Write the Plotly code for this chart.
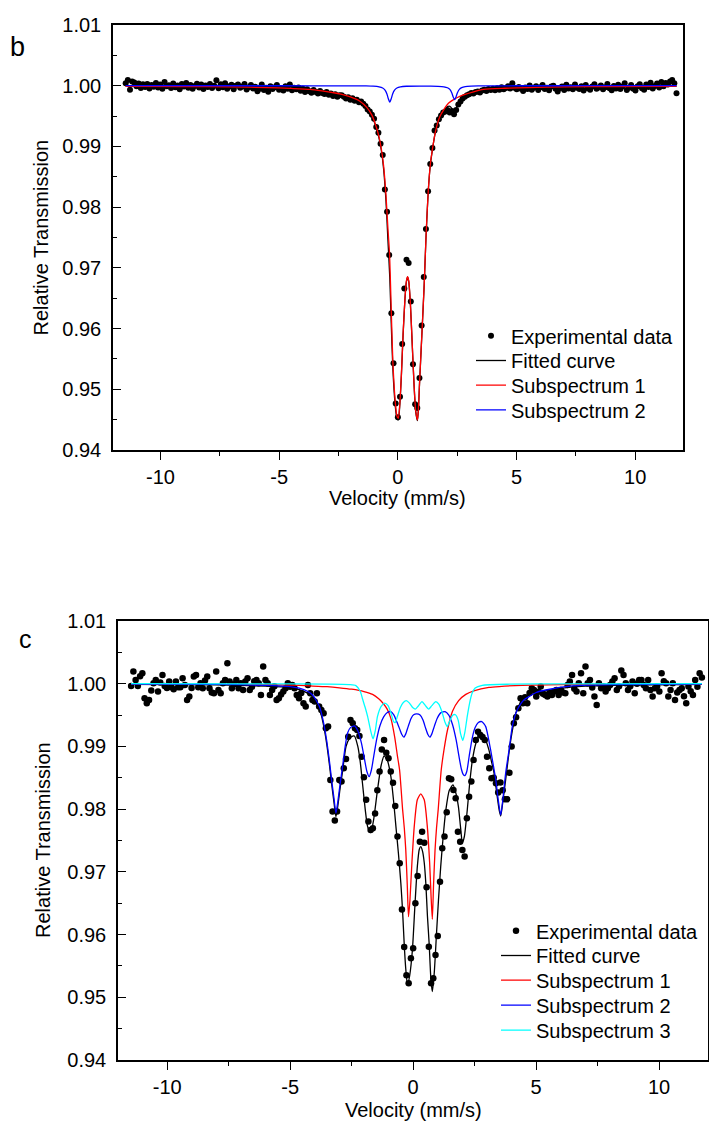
import plotly.graph_objects as go

# ---------------- shared velocity channels (mm/s) ----------------
VELOCITY = [
    -11.466, -11.375, -11.284, -11.193, -11.102, -11.011, -10.920, -10.829, -10.738, -10.647,
    -10.556, -10.465, -10.374, -10.283, -10.192, -10.101, -10.010, -9.919, -9.828, -9.737,
    -9.646, -9.555, -9.464, -9.373, -9.282, -9.191, -9.100, -9.009, -8.918, -8.827,
    -8.736, -8.645, -8.554, -8.463, -8.372, -8.281, -8.190, -8.099, -8.008, -7.917,
    -7.826, -7.735, -7.644, -7.553, -7.462, -7.371, -7.280, -7.189, -7.098, -7.007,
    -6.916, -6.825, -6.734, -6.643, -6.552, -6.461, -6.370, -6.279, -6.188, -6.097,
    -6.006, -5.915, -5.824, -5.733, -5.642, -5.551, -5.460, -5.369, -5.278, -5.187,
    -5.096, -5.005, -4.914, -4.823, -4.732, -4.641, -4.550, -4.459, -4.368, -4.277,
    -4.186, -4.095, -4.004, -3.913, -3.822, -3.731, -3.640, -3.549, -3.458, -3.367,
    -3.276, -3.185, -3.094, -3.003, -2.912, -2.821, -2.730, -2.639, -2.548, -2.457,
    -2.366, -2.275, -2.184, -2.093, -2.002, -1.911, -1.820, -1.729, -1.638, -1.547,
    -1.456, -1.365, -1.274, -1.183, -1.092, -1.001, -0.910, -0.819, -0.728, -0.637,
    -0.546, -0.455, -0.364, -0.273, -0.182, -0.091, 0.000, 0.091, 0.182, 0.273,
    0.364, 0.455, 0.546, 0.637, 0.728, 0.819, 0.910, 1.001, 1.092, 1.183,
    1.274, 1.365, 1.456, 1.547, 1.638, 1.729, 1.820, 1.911, 2.002, 2.093,
    2.184, 2.275, 2.366, 2.457, 2.548, 2.639, 2.730, 2.821, 2.912, 3.003,
    3.094, 3.185, 3.276, 3.367, 3.458, 3.549, 3.640, 3.731, 3.822, 3.913,
    4.004, 4.095, 4.186, 4.277, 4.368, 4.459, 4.550, 4.641, 4.732, 4.823,
    4.914, 5.005, 5.096, 5.187, 5.278, 5.369, 5.460, 5.551, 5.642, 5.733,
    5.824, 5.915, 6.006, 6.097, 6.188, 6.279, 6.370, 6.461, 6.552, 6.643,
    6.734, 6.825, 6.916, 7.007, 7.098, 7.189, 7.280, 7.371, 7.462, 7.553,
    7.644, 7.735, 7.826, 7.917, 8.008, 8.099, 8.190, 8.281, 8.372, 8.463,
    8.554, 8.645, 8.736, 8.827, 8.918, 9.009, 9.100, 9.191, 9.282, 9.373,
    9.464, 9.555, 9.646, 9.737, 9.828, 9.919, 10.010, 10.101, 10.192, 10.283,
    10.374, 10.465, 10.556, 10.647, 10.738, 10.829, 10.920, 11.011, 11.102, 11.193,
    11.284, 11.375, 11.466, 11.557, 11.648, 11.739,
]

# ---------------- panel b ----------------
B_DATA = [
    1.00042, 1.00095, 0.99935, 1.00070, 1.00052, 0.99990, 1.00038, 0.99962, 1.00025, 0.99978,
    1.00030, 0.99955, 1.00012, 0.99984, 1.00046, 0.99970, 1.00020, 0.99948, 1.00062, 0.99990,
    1.00008, 0.99962, 1.00036, 0.99975, 1.00002, 0.99940, 1.00028, 0.99985, 1.00044, 0.99968,
    1.00010, 0.99952, 0.99996, 1.00034, 0.99970, 1.00018, 0.99946, 1.00005, 0.99980, 1.00030,
    0.99964, 1.00000, 1.00088, 0.99958, 1.00024, 0.99975, 1.00040, 0.99950, 0.99990, 1.00014,
    0.99942, 0.99998, 1.00022, 0.99966, 0.99985, 1.00030, 0.99938, 0.99975, 1.00010, 0.99954,
    0.99982, 0.99910, 0.99948, 1.00018, 0.99930, 0.99965, 0.99902, 0.99990, 0.99945, 0.99975,
    1.00012, 0.99935, 0.99958, 0.99920, 0.99990, 0.99948, 1.00020, 0.99925, 0.99965, 0.99940,
    0.99972, 0.99918, 0.99950, 0.99895, 0.99940, 0.99910, 0.99885, 0.99930, 0.99895, 0.99870,
    0.99915, 0.99880, 0.99862, 0.99898, 0.99850, 0.99872, 0.99830, 0.99858, 0.99820, 0.99845,
    0.99845, 0.99820, 0.99790, 0.99808, 0.99770, 0.99792, 0.99752, 0.99768, 0.99728, 0.99740,
    0.99705, 0.99665, 0.99610, 0.99575, 0.99520, 0.99455,
    0.99320, 0.99226, 0.99046, 0.98857, 0.98289, 0.97924, 0.97210, 0.96252, 0.95430, 0.94766,
    0.94539, 0.94878, 0.95745, 0.96660, 0.97135, 0.97080, 0.96447, 0.95414, 0.94754, 0.94690,
    0.95187, 0.96050, 0.96850, 0.97640, 0.98262, 0.98712, 0.98976, 0.99264, 0.99345, 0.99446,
    0.99510, 0.99560, 0.99575, 0.99600, 0.99560, 0.99585, 0.99530, 0.99600, 0.99690, 0.99740,
    0.99790, 0.99820, 0.99845, 0.99860, 0.99880, 0.99870, 0.99895, 0.99905, 0.99890, 0.99920,
    0.99935, 0.99915, 0.99945, 0.99930,
    0.99950, 0.99925, 0.99960, 0.99935, 0.99975, 0.99940, 0.99962, 0.99990, 0.99955, 1.00040,
    0.99965, 0.99940, 0.99980, 0.99950, 0.99915, 0.99970, 0.99945, 1.00005, 0.99935, 0.99965,
    0.99990, 0.99930, 0.99975, 1.00010, 0.99945, 0.99968, 0.99925, 0.99985, 1.00000, 0.99950,
    0.99905, 0.99960, 0.99985, 0.99930, 1.00015, 0.99955, 0.99975, 0.99940, 1.00020, 0.99965,
    0.99945, 0.99990, 0.99920, 1.00010, 0.99960, 0.99935, 0.99985, 1.00025, 0.99950, 0.99970,
    1.00005, 0.99940, 0.99975, 1.00030, 0.99960, 0.99925, 0.99995, 0.99955, 1.00015, 0.99945,
    0.99985, 1.00040, 0.99930, 0.99965, 1.00010, 0.99950, 0.99920, 0.99990, 1.00025, 0.99960,
    0.99935, 1.00020, 0.99980, 1.00050, 0.99955, 0.99995, 1.00035, 0.99970, 1.00060, 0.99990,
    1.00045, 1.00020, 1.00070, 1.00095, 1.00040, 0.99875,
]

B_FIT_X = [-11.466, -9, -7, -5.5, -4.5, -3.7, -3.2, -2.7, -2.4, -2.0, -1.6, -1.3, -1.1, -0.95,
           -0.8, -0.7, -0.6, -0.5, -0.42, -0.34, -0.28, -0.21, -0.11, -0.04, 0.02, 0.08, 0.15,
           0.22, 0.30, 0.36, 0.41, 0.46, 0.53, 0.60, 0.68, 0.75, 0.826, 0.87, 0.91, 1.01, 1.11,
           1.19, 1.28, 1.37, 1.475, 1.57, 1.78, 1.94, 2.09, 2.19, 2.27, 2.33, 2.39, 2.45, 2.51,
           2.59, 2.69, 2.84, 3.19, 3.61, 4.5, 5.5, 7, 9, 11.739]
B_FIT_Y = [0.99990, 0.99986, 0.99980, 0.99969, 0.99954, 0.99939, 0.99914, 0.99883, 0.99858,
           0.99813, 0.99742, 0.99636, 0.99512, 0.99358, 0.99150, 0.98945, 0.98630, 0.98100,
           0.97470, 0.96840, 0.96110, 0.95340, 0.94730, 0.94520, 0.94495, 0.94730, 0.95235,
           0.95888, 0.96490, 0.96771, 0.96846, 0.96771, 0.96391, 0.95791, 0.95091, 0.94641,
           0.94485, 0.94691, 0.95061, 0.95883, 0.96723, 0.97543, 0.98253, 0.98702, 0.98990,
           0.99210, 0.99488, 0.99589, 0.99656, 0.99661, 0.99627, 0.99573, 0.99542, 0.99602,
           0.99683, 0.99753, 0.99806, 0.99843, 0.99893, 0.99939, 0.99957, 0.99969, 0.99980,
           0.99987, 0.99990]

B_SUB1_X = [-11.466, -9, -7, -5.5, -4.5, -3.7, -3.2, -2.7, -2.4, -2.0, -1.6, -1.3, -1.1, -0.95,
            -0.8, -0.7, -0.6, -0.5, -0.42, -0.35, -0.28, -0.21, -0.11, -0.04, 0.02, 0.08, 0.15,
            0.22, 0.30, 0.36, 0.41, 0.46, 0.53, 0.60, 0.68, 0.75, 0.826, 0.87, 0.91, 1.01, 1.11,
            1.19, 1.28, 1.37, 1.475, 1.57, 1.78, 2.13, 2.63, 3.19, 3.61, 4.5, 5.5, 7, 9, 11.739]
B_SUB1_Y = [0.99990, 0.99986, 0.99980, 0.99970, 0.99955, 0.99940, 0.99915, 0.99884, 0.99860,
            0.99815, 0.99745, 0.99640, 0.99520, 0.99370, 0.99170, 0.98970, 0.98680, 0.98200,
            0.97660, 0.97240, 0.96330, 0.95450, 0.94800, 0.94560, 0.94520, 0.94750, 0.95250,
            0.95900, 0.96500, 0.96780, 0.96855, 0.96780, 0.96400, 0.95800, 0.95100, 0.94650,
            0.94494, 0.94700, 0.95070, 0.95890, 0.96730, 0.97550, 0.98260, 0.98710, 0.99000,
            0.99220, 0.99500, 0.99710, 0.99830, 0.99900, 0.99940, 0.99958, 0.99970, 0.99980,
            0.99987, 0.99990]

B_SUB2_X = [-11.466, -5, -2, -1.34, -1.04, -0.79, -0.64, -0.54, -0.46, -0.40, -0.34, -0.28, -0.22,
            -0.14, -0.04, 0.11, 0.36, 1.0, 1.39, 1.69, 1.94, 2.09, 2.19, 2.27, 2.33, 2.39, 2.45,
            2.51, 2.59, 2.69, 2.84, 3.09, 3.39, 5, 8, 11.739]
B_SUB2_Y = [1.00000, 0.99999, 0.99998, 0.99996, 0.99992, 0.99982, 0.99963, 0.99928, 0.99865,
            0.99784, 0.99730, 0.99784, 0.99865, 0.99928, 0.99963, 0.99982, 0.99991, 0.99993,
            0.99993, 0.99990, 0.99982, 0.99966, 0.99939, 0.99885, 0.99816, 0.99770, 0.99816,
            0.99885, 0.99939, 0.99968, 0.99985, 0.99993, 0.99997, 0.99999, 1.00000, 1.00000]

# ---------------- panel c ----------------
C_DATA = [
    0.99965, 1.00193, 1.00061, 0.99965, 1.00120, 1.00167, 0.99769, 0.99689, 0.99742, 0.99890,
    1.00008, 1.00061, 0.99874, 1.00020, 1.00140, 0.99965, 0.99930, 1.00034, 0.99944, 0.99912,
    1.00034, 0.99944, 0.99944, 1.00088, 0.99980, 0.99742, 0.99795, 0.99930, 1.00114, 1.00140,
    0.99944, 1.00008, 0.99928, 1.00050, 1.00114, 0.99928, 0.99860, 0.99848, 1.00193, 0.99900,
    0.99848, 1.00008, 1.00061, 1.00327, 1.00034, 0.99928, 0.99990, 1.00061, 0.99928, 1.00008,
    0.99901, 1.00034, 1.00088, 0.99901, 0.99950, 1.00040, 1.00061, 1.00008, 0.99821,
    1.00274, 1.00061, 1.00008, 0.99821, 0.99901, 0.99960, 0.99742, 0.99769, 0.99830, 0.99874,
    0.99928, 1.00008, 0.99950, 0.99981, 0.99928, 0.99821, 0.99769, 0.99850, 0.99689, 0.99635,
    0.99981, 0.99848, 0.99742, 0.99715, 0.99848, 0.99635, 0.99582, 0.99530, 0.99290, 0.99316,
    0.98466, 0.97961, 0.97817, 0.97961, 0.98466, 0.98439, 0.98652, 0.98800, 0.99156, 0.99423,
    0.99370, 0.99290, 0.99263, 0.99167, 0.98837, 0.98509, 0.98150, 0.97801, 0.97668, 0.97695,
    0.97930, 0.98300, 0.98600, 0.98950, 0.99104, 0.98900, 0.98812, 0.98599, 0.98420, 0.98050,
    0.97562, 0.97137, 0.96400, 0.95800, 0.95350, 0.95223, 0.95622, 0.95781, 0.96500, 0.96935,
    0.97482, 0.97641, 0.97466, 0.96754, 0.95807, 0.95223, 0.95303, 0.95675, 0.95978, 0.96844,
    0.97376, 0.97562, 0.97950, 0.98493, 0.98477, 0.98306, 0.98173, 0.97641, 0.97482, 0.97349,
    0.97243, 0.97855, 0.98199, 0.98439, 0.98785, 0.99104, 0.99236, 0.99183, 0.99150, 0.99104,
    0.98837, 0.98652, 0.98493, 0.98500, 0.98413, 0.98264, 0.98423, 0.98300, 0.98158, 0.98158,
    0.98582, 0.98997, 0.99370, 0.99466, 0.99609, 0.99769, 0.99689, 0.99785, 0.99689, 0.99850,
    0.99928, 0.99901,
    0.99795, 0.99870, 0.99954, 0.99840, 0.99821, 0.99795, 0.99860, 0.99821, 0.99874, 0.99900,
    0.99821, 0.99901, 0.99860, 0.99848, 0.99981, 1.00034, 1.00140, 0.99920, 0.99874, 1.00008,
    1.00167, 0.99848, 1.00274, 1.00008, 1.00061, 0.99940, 0.99795, 0.99662, 1.00008, 0.99928,
    0.99960, 0.99874, 0.99928, 0.99980, 1.00034, 1.00088, 0.99901, 0.99960, 1.00209, 1.00140,
    1.00008, 0.99901, 0.99960, 1.00034, 0.99848, 1.00000, 1.00061, 1.00061, 0.99980, 0.99928,
    1.00061, 0.99900, 0.99795, 0.99928, 0.99960, 0.99874, 1.00167, 1.00040, 1.00008, 0.99795,
    0.99900, 1.00008, 0.99742, 0.99860, 0.99901, 0.99928, 0.99800, 0.99689, 0.99954, 0.99880,
    0.99821, 1.00061, 0.99950, 1.00167, 1.00100,
]

C_FIT_X = [-11.466, -8, -6, -5, -4.63, -4.3, -4.09, -3.95, -3.81, -3.71, -3.61, -3.51, -3.41,
           -3.31, -3.21, -3.14, -3.07, -2.97, -2.87, -2.73, -2.60, -2.46, -2.39, -2.25, -2.15,
           -2.06, -1.95, -1.85, -1.72, -1.60, -1.45, -1.30, -1.18, -1.05, -0.905, -0.80, -0.70,
           -0.60, -0.50, -0.43, -0.365, -0.30, -0.23, -0.14, -0.03, 0.07, 0.17, 0.25, 0.31, 0.38,
           0.45, 0.515, 0.58, 0.65, 0.72, 0.78, 0.86, 0.95, 1.03, 1.12, 1.22, 1.33, 1.47, 1.62,
           1.74, 1.84, 1.93, 2.00, 2.08, 2.20, 2.30, 2.41, 2.55, 2.68, 2.81, 2.95, 3.08, 3.19,
           3.29, 3.40, 3.50, 3.56, 3.64, 3.76, 3.87, 3.97, 4.08, 4.17, 4.35, 4.57, 5.0, 5.39,
           6.47, 8, 11.739]
C_FIT_Y = [0.99990, 0.99980, 0.99960, 0.99935, 0.99905, 0.99850, 0.99790, 0.99705, 0.99600,
           0.99460, 0.99270, 0.99030, 0.98730, 0.98390, 0.98080, 0.97880, 0.98030, 0.98330,
           0.98600, 0.98997, 0.99120, 0.99165, 0.99167, 0.99000, 0.98750, 0.98413, 0.98000,
           0.97720, 0.97625, 0.97850, 0.98306, 0.98700, 0.98848, 0.98780, 0.98518, 0.98150,
           0.97721, 0.97300, 0.96818, 0.96380, 0.95861, 0.95450, 0.95196, 0.95350, 0.95754,
           0.96450, 0.97083, 0.97360, 0.97402, 0.97330, 0.97150, 0.96818, 0.96300, 0.95861,
           0.95300, 0.95089, 0.95400, 0.96021, 0.96550, 0.97083, 0.97560, 0.97987, 0.98300,
           0.98386, 0.98250, 0.98040, 0.97700, 0.97466, 0.97560, 0.97987, 0.98420, 0.98785,
           0.99050, 0.99180, 0.99190, 0.99100, 0.98944, 0.98750, 0.98573, 0.98250, 0.97980,
           0.97891, 0.98100, 0.98466, 0.98820, 0.99104, 0.99350, 0.99530, 0.99690, 0.99794,
           0.99845, 0.99885, 0.99950, 0.99975, 0.99990]

C_SUB1_X = [-11.466, -8, -6, -5, -4.2, -3.5, -3.0, -2.5, -2.0, -1.65, -1.4, -1.25, -1.05, -0.9,
            -0.75, -0.64, -0.55, -0.43, -0.36, -0.30, -0.24, -0.19, -0.13, -0.05, 0.05, 0.17,
            0.31, 0.45, 0.57, 0.67, 0.73, 0.78, 0.83, 0.89, 0.95, 1.02, 1.14, 1.26, 1.39, 1.6,
            1.85, 2.14, 2.5, 3.08, 3.5, 4.44, 6, 8, 11.739]
C_SUB1_Y = [0.99995, 0.99990, 0.99985, 0.99978, 0.99965, 0.99952, 0.99935, 0.99912, 0.99875,
            0.99830, 0.99760, 0.99700, 0.99590, 0.99440, 0.99150, 0.98850, 0.98620, 0.98000,
            0.97700, 0.97350, 0.96800, 0.96286, 0.96550, 0.97150, 0.97750, 0.98150, 0.98243,
            0.98150, 0.97750, 0.97150, 0.96600, 0.96244, 0.96800, 0.97350, 0.97700, 0.98000,
            0.98620, 0.98960, 0.99250, 0.99560, 0.99730, 0.99830, 0.99890, 0.99940, 0.99955,
            0.99975, 0.99985, 0.99990, 0.99995]

C_SUB2_X = [-11.466, -8, -6, -5, -4.63, -4.3, -4.09, -3.95, -3.81, -3.71,
            -3.61, -3.51, -3.41, -3.31, -3.21, -3.14, -3.07, -2.97, -2.87, -2.77,
            -2.67, -2.55, -2.39, -2.25, -2.1, -1.98, -1.88, -1.79, -1.70, -1.60,
            -1.48, -1.35, -1.2, -1.05, -0.905, -0.78, -0.65, -0.55, -0.46, -0.38,
            -0.30, -0.20, -0.08, 0.02, 0.15, 0.28, 0.40, 0.50, 0.60, 0.68,
            0.76, 0.86, 0.98, 1.12, 1.30, 1.45, 1.60, 1.75, 1.86, 1.96,
            2.04, 2.10, 2.18, 2.28, 2.40, 2.52, 2.65, 2.79, 2.95, 3.05,
            3.15, 3.26, 3.36, 3.46, 3.56, 3.66, 3.76, 3.90, 4.03, 4.15,
            4.30, 4.50, 4.71, 5.0, 5.39, 6.47, 8, 11.739]
C_SUB2_Y = [0.99995, 0.99990, 0.99975, 0.99955, 0.99928, 0.99880, 0.99821, 0.99740, 0.99635, 0.99500,
            0.99316, 0.99080, 0.98785, 0.98450, 0.98147, 0.97935, 0.98100, 0.98400, 0.98678, 0.98980,
            0.99211, 0.99300, 0.99327, 0.99250, 0.99050, 0.98800, 0.98600, 0.98518, 0.98620, 0.98850,
            0.99120, 0.99330, 0.99470, 0.99540, 0.99555, 0.99500, 0.99380, 0.99280, 0.99190, 0.99147,
            0.99200, 0.99320, 0.99450, 0.99505, 0.99518, 0.99500, 0.99420, 0.99300, 0.99190, 0.99147,
            0.99200, 0.99320, 0.99450, 0.99535, 0.99555, 0.99500, 0.99350, 0.99100, 0.98850, 0.98640,
            0.98550, 0.98534, 0.98600, 0.98850, 0.99130, 0.99300, 0.99380, 0.99396, 0.99316, 0.99150,
            0.98944, 0.98700, 0.98466, 0.98150, 0.97907, 0.98200, 0.98573, 0.98944, 0.99316, 0.99500,
            0.99635, 0.99740, 0.99794, 0.99860, 0.99900, 0.99965, 0.99985, 0.99995]

C_SUB3_X = [-11.466, -6, -3.5, -2.6, -2.33, -2.15, -2.06, -1.95, -1.85, -1.72,
            -1.63, -1.54, -1.45, -1.3, -1.16, -1.02, -0.9, -0.8, -0.73, -0.64,
            -0.52, -0.40, -0.28, -0.15, -0.02, 0.09, 0.20, 0.36, 0.50, 0.63,
            0.76, 0.92, 1.05, 1.18, 1.30, 1.39, 1.48, 1.62, 1.72, 1.83,
            1.93, 2.02, 2.10, 2.20, 2.30, 2.40, 2.52, 2.81, 4, 6, 11.739]
C_SUB3_Y = [1.00000, 0.99998, 0.99993, 0.99985, 0.99970, 0.99880, 0.99760, 0.99620, 0.99475, 0.99236,
            0.99120, 0.99250, 0.99480, 0.99640, 0.99690, 0.99650, 0.99530, 0.99400, 0.99380, 0.99480,
            0.99620, 0.99700, 0.99730, 0.99690, 0.99620, 0.99595, 0.99640, 0.99715, 0.99650, 0.99595,
            0.99650, 0.99715, 0.99670, 0.99540, 0.99380, 0.99316, 0.99400, 0.99500, 0.99505, 0.99420,
            0.99200, 0.99095, 0.99220, 0.99480, 0.99700, 0.99850, 0.99930, 0.99975, 0.99993, 0.99998,
            1.00000]

# ---------------- axes ticks / labels ----------------
X_TICKS = [-10, -5, 0, 5, 10]
X_TICKTEXT = ["-10", "-5", "0", "5", "10"]
X_MINOR = [-7.5, -2.5, 2.5, 7.5]
Y_TICKS = [0.94, 0.95, 0.96, 0.97, 0.98, 0.99, 1.00, 1.01]
Y_TICKTEXT = ["0.94", "0.95", "0.96", "0.97", "0.98", "0.99", "1.00", "1.01"]
Y_MINOR = [0.945, 0.955, 0.965, 0.975, 0.985, 0.995, 1.005]

NAMES_B = ["Experimental data", "Fitted curve", "Subspectrum 1", "Subspectrum 2"]
NAMES_C = ["Experimental data", "Fitted curve", "Subspectrum 1", "Subspectrum 2", "Subspectrum 3"]

FONT = "Liberation Sans, Arial, sans-serif"
LW = 1.3
W, H = 709, 1124


def px_x(p):
    return p / W


def px_y(p):
    return 1 - p / H


fig = go.Figure()

# legend ids: one small legend per entry so the row spacing can follow the reference
LEG_B = ["legend", "legend2", "legend3", "legend4"]
LEG_C = ["legend5", "legend6", "legend7", "legend8", "legend9"]

# panel b
fig.add_trace(go.Scatter(x=VELOCITY, y=B_DATA, mode="markers", name=NAMES_B[0],
                         marker=dict(color="black", size=6), xaxis="x", yaxis="y", legend=LEG_B[0]))
fig.add_trace(go.Scatter(x=B_FIT_X, y=B_FIT_Y, mode="lines", name=NAMES_B[1],
                         line=dict(color="black", width=LW, shape="spline", smoothing=0.6),
                         xaxis="x", yaxis="y", legend=LEG_B[1]))
fig.add_trace(go.Scatter(x=B_SUB1_X, y=B_SUB1_Y, mode="lines", name=NAMES_B[2],
                         line=dict(color="#ff0000", width=LW, shape="spline", smoothing=0.6),
                         xaxis="x", yaxis="y", legend=LEG_B[2]))
fig.add_trace(go.Scatter(x=B_SUB2_X, y=B_SUB2_Y, mode="lines", name=NAMES_B[3],
                         line=dict(color="#0000ff", width=LW, shape="spline", smoothing=0.6),
                         xaxis="x", yaxis="y", legend=LEG_B[3]))

# panel c
fig.add_trace(go.Scatter(x=VELOCITY, y=C_DATA, mode="markers", name=NAMES_C[0],
                         marker=dict(color="black", size=6.5), xaxis="x2", yaxis="y2", legend=LEG_C[0]))
fig.add_trace(go.Scatter(x=C_FIT_X, y=C_FIT_Y, mode="lines", name=NAMES_C[1],
                         line=dict(color="black", width=LW, shape="spline", smoothing=0.6),
                         xaxis="x2", yaxis="y2", legend=LEG_C[1]))
fig.add_trace(go.Scatter(x=C_SUB1_X, y=C_SUB1_Y, mode="lines", name=NAMES_C[2],
                         line=dict(color="#ff0000", width=LW, shape="spline", smoothing=0.6),
                         xaxis="x2", yaxis="y2", legend=LEG_C[2]))
fig.add_trace(go.Scatter(x=C_SUB2_X, y=C_SUB2_Y, mode="lines", name=NAMES_C[3],
                         line=dict(color="#0000ff", width=LW, shape="spline", smoothing=0.6),
                         xaxis="x2", yaxis="y2", legend=LEG_C[3]))
fig.add_trace(go.Scatter(x=C_SUB3_X, y=C_SUB3_Y, mode="lines", name=NAMES_C[4],
                         line=dict(color="#00ffff", width=LW, shape="spline", smoothing=0.6),
                         xaxis="x2", yaxis="y2", legend=LEG_C[4]))


def xaxis_style(domain, anchor):
    return dict(domain=domain, anchor=anchor, range=[-12, 12], tickmode="array",
                tickvals=X_TICKS, ticktext=X_TICKTEXT, ticks="outside", ticklen=8, tickwidth=1.3,
                tickcolor="black", showline=True, linewidth=1.5, linecolor="black", mirror=True,
                showgrid=False, zeroline=False, automargin=False,
                tickfont=dict(family=FONT, size=20, color="black"),
                minor=dict(tickmode="array", tickvals=X_MINOR, ticks="outside", ticklen=4,
                           tickwidth=1.2, tickcolor="black", showgrid=False))


def yaxis_style(domain, anchor):
    return dict(domain=domain, anchor=anchor, range=[0.94, 1.01], tickmode="array",
                tickvals=Y_TICKS, ticktext=Y_TICKTEXT, ticks="inside", ticklen=8, tickwidth=1.3,
                tickcolor="black", showline=True, linewidth=1.5, linecolor="black", mirror=True,
                showgrid=False, zeroline=False, ticklabelstandoff=6, automargin=False,
                tickfont=dict(family=FONT, size=20, color="black"),
                minor=dict(tickmode="array", tickvals=Y_MINOR, ticks="inside", ticklen=4,
                           tickwidth=1.2, tickcolor="black", showgrid=False))


def legend_style(left_px, center_px):
    return dict(x=px_x(left_px), y=px_y(center_px - 21), xanchor="left", yanchor="top",
                bgcolor="rgba(0,0,0,0)", borderwidth=0, tracegroupgap=0,
                font=dict(family=FONT, size=20, color="black"))


LEG_B_CENTERS = [337.3, 362.0, 386.7, 411.4]
LEG_C_CENTERS = [932.3, 957.0, 981.7, 1006.7, 1031.7]

legend_layout = {}
for lid, c in zip(LEG_B, LEG_B_CENTERS):
    legend_layout[lid] = legend_style(471, c)
for lid, c in zip(LEG_C, LEG_C_CENTERS):
    legend_layout[lid] = legend_style(496, c)

fig.update_layout(
    template="none",
    width=W, height=H, autosize=False,
    margin=dict(l=0, r=0, t=0, b=0, autoexpand=False),
    paper_bgcolor="white", plot_bgcolor="white",
    font=dict(family=FONT, size=20, color="black"),
    showlegend=True,
    xaxis=xaxis_style([px_x(113), px_x(682.7)], "y"),
    yaxis=yaxis_style([px_y(450), px_y(25)], "x"),
    xaxis2=xaxis_style([px_x(118), px_x(708.3)], "y2"),
    yaxis2=yaxis_style([px_y(1060), px_y(621)], "x2"),
    annotations=[
        dict(text="b", x=px_x(17), y=px_y(47), xref="paper", yref="paper", showarrow=False,
             xanchor="center", yanchor="middle", font=dict(family=FONT, size=27, color="black")),
        dict(text="c", x=px_x(25.5), y=px_y(639), xref="paper", yref="paper", showarrow=False,
             xanchor="center", yanchor="middle", font=dict(family=FONT, size=25, color="black")),
        dict(text="Relative Transmission", x=px_x(41), y=px_y(237.5), xref="paper", yref="paper",
             showarrow=False, textangle=-90, xanchor="center", yanchor="middle",
             font=dict(family=FONT, size=20, color="black")),
        dict(text="Relative Transmission", x=px_x(43), y=px_y(840), xref="paper", yref="paper",
             showarrow=False, textangle=-90, xanchor="center", yanchor="middle",
             font=dict(family=FONT, size=20, color="black")),
        dict(text="Velocity (mm/s)", x=px_x(397.9), y=px_y(498), xref="paper", yref="paper",
             showarrow=False, xanchor="center", yanchor="middle",
             font=dict(family=FONT, size=20, color="black")),
        dict(text="Velocity (mm/s)", x=px_x(413.2), y=px_y(1110), xref="paper", yref="paper",
             showarrow=False, xanchor="center", yanchor="middle",
             font=dict(family=FONT, size=20, color="black")),
    ],
    **legend_layout,
)

fig.write_html("out.html")
